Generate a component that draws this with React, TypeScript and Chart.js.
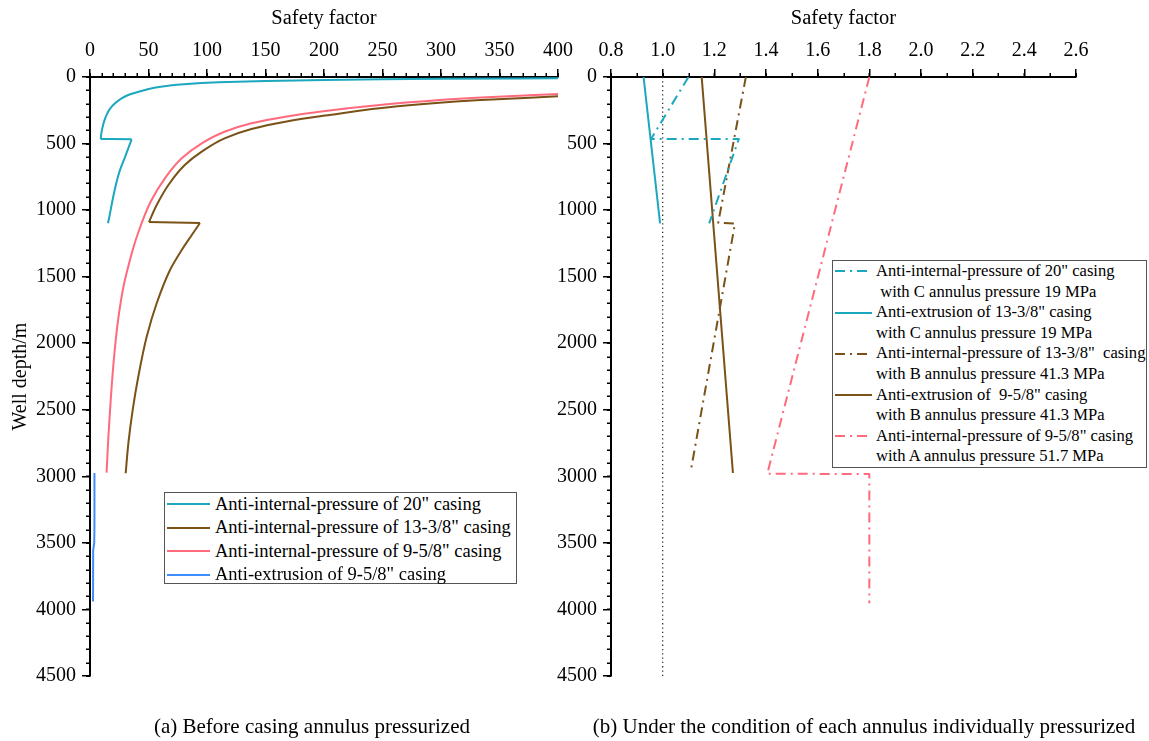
import React, { useEffect, useRef } from 'react';
import { Chart, registerables } from 'chart.js';

Chart.register(...registerables);

const FONT = "'Liberation Serif', 'Times New Roman', Times, serif";
const W = 1149;
const H = 741;

const CYAN = '#1ba8be';
const BROWN = '#7a5217';
const PINK = '#ff6a7d';
const BLUE = '#3d8dff';
const DASH_DOT = [10, 5, 2, 5];

// ---------- Panel (a): before casing annulus pressurized ----------
// safety factor (x) vs well depth in m (y); the "jump" index marks where the curve steps sideways
const aSf20 = [400, 300, 250, 200, 150, 110, 80, 67, 55, 47, 40, 32.7, 27, 21.4, 17, 14.2, 12, 10.5, 9.6, 9.2, 35.6, 29.5, 25.6, 22.8, 20.8, 19.0, 17.2, 15.4];
const aDepth20 = [10, 14, 17, 22, 30, 40, 54, 65, 80, 98, 115, 135, 160, 198, 240, 285, 335, 386, 430, 466, 468, 611, 700, 786, 860, 937, 1020, 1099];
const aJump20 = 20;

const aSf1338 = [400, 330, 265, 201, 167, 138, 115, 95.5, 81, 67, 57, 50.4, 94, 87, 78.4, 68.4, 57, 48.5, 41.3, 36.5, 32.8, 30.5];
const aDepth1338 = [145, 175, 218, 290, 336, 391, 461, 561, 661, 811, 962, 1090, 1097, 1187, 1300, 1450, 1700, 1950, 2250, 2500, 2750, 2977];
const aJump1338 = 12;

const aSf958 = [400, 330, 270, 201, 167, 138, 115, 95.5, 78.4, 64, 51.8, 40.5, 36.5, 32.8, 29.2, 24.4, 20.6, 17.7, 15.7, 14.2];
const aDepth958 = [128, 155, 192, 255, 298, 348, 411, 498, 611, 761, 937, 1187, 1300, 1420, 1550, 1800, 2100, 2427, 2702, 2972];

const aSfExt958 = [3.8, 3.8, 3.6, 2.7, 2.6];
const aDepthExt958 = [2975, 3300, 3500, 3560, 3940];

const aLabels = [
  'Anti-internal-pressure of 20" casing',
  'Anti-internal-pressure of 13-3/8" casing',
  'Anti-internal-pressure of 9-5/8" casing',
  'Anti-extrusion of 9-5/8" casing',
];

// ---------- Panel (b): each annulus individually pressurized ----------
const bSf20 = [1.1, 0.955, 1.295, 1.18];
const bDepth20 = [0, 465, 465, 1100];

const bSfExt1338 = [0.926, 0.99];
const bDepthExt1338 = [0, 1100];

const bSf1338 = [1.322, 1.215, 1.28, 1.11];
const bDepth1338 = [0, 1095, 1100, 2947];

const bSfExt958 = [1.151, 1.272];
const bDepthExt958 = [0, 2975];

const bSf958 = [1.8, 1.405, 1.8, 1.8];
const bDepth958 = [0, 2980, 2983, 3954];

const refSf = [1, 1];
const refDepth = [0, 4500];

const bLabels: [string, string][] = [
  ['Anti-internal-pressure of 20" casing', ' with C annulus pressure 19 MPa'],
  ['Anti-extrusion of 13-3/8" casing', 'with C annulus pressure 19 MPa'],
  ['Anti-internal-pressure of 13-3/8"  casing', 'with B annulus pressure 41.3 MPa'],
  ['Anti-extrusion of  9-5/8" casing', 'with B annulus pressure 41.3 MPa'],
  ['Anti-internal-pressure of 9-5/8" casing', 'with A annulus pressure 51.7 MPa'],
];

// ---------- Ticks ----------
const depthTicks = [0, 500, 1000, 1500, 2000, 2500, 3000, 3500, 4000, 4500];
const xTicksA = [0, 50, 100, 150, 200, 250, 300, 350, 400];
const xTicksB = [0.8, 1.0, 1.2, 1.4, 1.6, 1.8, 2.0, 2.2, 2.4, 2.6];

const captionA = '(a) Before casing annulus pressurized';
const captionB = '(b) Under the condition of each annulus individually pressurized';

function pts(sf: number[], depth: number[]) {
  return sf.map((x, i) => ({ x, y: depth[i] }));
}

// split a series at a step so each smooth branch is interpolated on its own
function pieces(sf: number[], depth: number[], jump?: number) {
  const all = pts(sf, depth);
  if (jump === undefined) return [all];
  return [all.slice(0, jump), all.slice(jump - 1, jump + 1), all.slice(jump)];
}

const minorTicks = {
  id: 'minorTicks',
  afterDraw(chart: any, _args: any, opts: any) {
    const { ctx, chartArea, scales } = chart;
    const xs = scales.x;
    const ys = scales.y;
    ctx.save();
    ctx.strokeStyle = '#000';
    ctx.lineWidth = 1.5;
    ctx.beginPath();
    const nx = Math.round((xs.max - xs.min) / opts.xStep);
    for (let i = 0; i <= nx; i++) {
      const px = Math.round(xs.getPixelForValue(xs.min + i * opts.xStep)) + 0.25;
      ctx.moveTo(px, chartArea.top);
      ctx.lineTo(px, chartArea.top - 4);
    }
    const ny = Math.round((ys.max - ys.min) / opts.yStep);
    for (let i = 0; i <= ny; i++) {
      const py = Math.round(ys.getPixelForValue(ys.min + i * opts.yStep)) + 0.25;
      ctx.moveTo(chartArea.left, py);
      ctx.lineTo(chartArea.left - 4, py);
    }
    ctx.stroke();
    ctx.restore();
  },
};

interface OptCfg {
  xMin: number;
  xMax: number;
  xTicks: number[];
  xMinor: number;
  fmt: (v: number) => string;
  padLeft: number;
  padRight: number;
  yWidth: number;
  yTitle: boolean;
  smooth: boolean;
}

function buildOptions(p: OptCfg): any {
  const tickFont = { family: FONT, size: 20 };
  const grid = { drawOnChartArea: false, drawTicks: true, tickLength: 8, color: '#000', lineWidth: 1.5 };
  const border = { display: true, color: '#000', width: 2 };
  return {
    responsive: false,
    maintainAspectRatio: false,
    animation: false,
    events: [],
    indexAxis: p.smooth ? 'y' : 'x',
    layout: { padding: { left: p.padLeft, right: p.padRight, top: 0, bottom: H - 676 } },
    plugins: {
      legend: { display: false },
      tooltip: { enabled: false },
      minorTicks: { xStep: p.xMinor, yStep: 100 },
    },
    elements: {
      point: { radius: 0, hoverRadius: 0 },
      line: {
        tension: 0,
        borderWidth: 2,
        borderJoinStyle: 'round',
        cubicInterpolationMode: p.smooth ? 'monotone' : 'default',
      },
    },
    scales: {
      x: {
        type: 'linear',
        position: 'top',
        min: p.xMin,
        max: p.xMax,
        afterBuildTicks: (s: any) => {
          s.ticks = p.xTicks.map((v) => ({ value: v }));
        },
        afterFit: (s: any) => {
          s.height = 77;
        },
        ticks: { color: '#000', font: tickFont, padding: 6, maxRotation: 0, autoSkip: false, callback: (v: any) => p.fmt(Number(v)) },
        grid,
        border,
        title: { display: true, text: 'Safety factor', color: '#000', font: { family: FONT, size: 20.5 }, padding: { top: 6, bottom: 0 } },
      },
      y: {
        type: 'linear',
        position: 'left',
        reverse: true,
        min: 0,
        max: 4500,
        afterBuildTicks: (s: any) => {
          s.ticks = depthTicks.map((v) => ({ value: v }));
        },
        afterFit: (s: any) => {
          s.width = p.yWidth;
        },
        ticks: { color: '#000', font: tickFont, padding: 6, autoSkip: false, callback: (v: any) => String(v) },
        grid,
        border,
        title: { display: p.yTitle, text: 'Well depth/m', color: '#000', font: { family: FONT, size: 20 }, padding: { top: 9, bottom: 0 } },
      },
    },
  };
}

function LineSample({ color, dash, width, left, top }: { color: string; dash?: number[]; width: number; left: number; top: number }) {
  return (
    <svg width={width} height={6} style={{ position: 'absolute', left, top: top - 3, overflow: 'visible' }}>
      <line x1={0} y1={3} x2={width} y2={3} stroke={color} strokeWidth={2} strokeDasharray={dash ? dash.join(' ') : undefined} />
    </svg>
  );
}

export default function App() {
  const leftRef = useRef<HTMLCanvasElement | null>(null);
  const rightRef = useRef<HTMLCanvasElement | null>(null);

  useEffect(() => {
    const aSeries = [
      { label: aLabels[0], color: CYAN, parts: pieces(aSf20, aDepth20, aJump20) },
      { label: aLabels[1], color: BROWN, parts: pieces(aSf1338, aDepth1338, aJump1338) },
      { label: aLabels[2], color: PINK, parts: pieces(aSf958, aDepth958) },
      { label: aLabels[3], color: BLUE, parts: pieces(aSfExt958, aDepthExt958) },
    ];
    const aDatasets: any[] = [];
    aSeries.forEach((s) => {
      s.parts.forEach((d) => {
        aDatasets.push({ label: s.label, data: d, borderColor: s.color, fill: false });
      });
    });

    const left = new Chart(leftRef.current as HTMLCanvasElement, {
      type: 'line',
      data: { datasets: aDatasets },
      options: buildOptions({
        xMin: 0,
        xMax: 400,
        xTicks: xTicksA,
        xMinor: 10,
        fmt: (v) => String(v),
        padLeft: 0,
        padRight: W - 558,
        yWidth: 90,
        yTitle: true,
        smooth: true,
      }),
      plugins: [minorTicks as any],
    } as any);

    const right = new Chart(rightRef.current as HTMLCanvasElement, {
      type: 'line',
      data: {
        datasets: [
          { label: bLabels[0].join(''), data: pts(bSf20, bDepth20), borderColor: CYAN, borderDash: DASH_DOT, fill: false },
          { label: bLabels[1].join(''), data: pts(bSfExt1338, bDepthExt1338), borderColor: CYAN, fill: false },
          { label: bLabels[2].join(''), data: pts(bSf1338, bDepth1338), borderColor: BROWN, borderDash: DASH_DOT, fill: false },
          { label: bLabels[3].join(''), data: pts(bSfExt958, bDepthExt958), borderColor: BROWN, fill: false },
          { label: bLabels[4].join(''), data: pts(bSf958, bDepth958), borderColor: PINK, borderDash: DASH_DOT, fill: false },
          { label: 'SF = 1', data: pts(refSf, refDepth), borderColor: '#333', borderWidth: 1.3, borderDash: [1.3, 3], fill: false },
        ],
      },
      options: buildOptions({
        xMin: 0.8,
        xMax: 2.6,
        xTicks: xTicksB,
        xMinor: 0.1,
        fmt: (v) => v.toFixed(1),
        padLeft: 530,
        padRight: W - 1076,
        yWidth: 81,
        yTitle: false,
        smooth: false,
      }),
      plugins: [minorTicks as any],
    } as any);

    return () => {
      left.destroy();
      right.destroy();
    };
  }, []);

  const aColors = [CYAN, BROWN, PINK, BLUE];
  const bStyles: { color: string; dash?: number[] }[] = [
    { color: CYAN, dash: DASH_DOT },
    { color: CYAN },
    { color: BROWN, dash: DASH_DOT },
    { color: BROWN },
    { color: PINK, dash: DASH_DOT },
  ];

  const legRowA = 23.5;
  const legRowB = 20.6;

  return (
    <div style={{ position: 'absolute', left: 0, top: 0, width: W, height: H, background: '#fff', fontFamily: FONT, color: '#000', overflow: 'hidden' }}>
      <canvas ref={leftRef} width={W} height={H} style={{ position: 'absolute', left: 0, top: 0 }} />
      <canvas ref={rightRef} width={W} height={H} style={{ position: 'absolute', left: 0, top: 0 }} />

      {/* Legend (a) */}
      <div style={{ position: 'absolute', left: 164, top: 492, width: 353, height: 92, border: '1px solid #555', boxSizing: 'border-box', background: '#fff' }}>
        {aLabels.map((t, i) => (
          <React.Fragment key={i}>
            <LineSample color={aColors[i]} width={43} left={2} top={i * legRowA + 11} />
            <div style={{ position: 'absolute', left: 50, top: i * legRowA - 0.5, fontSize: 18.5, lineHeight: `${legRowA}px`, whiteSpace: 'pre' }}>{t}</div>
          </React.Fragment>
        ))}
      </div>

      {/* Legend (b) */}
      <div style={{ position: 'absolute', left: 832, top: 260, width: 315, height: 208, border: '1px solid #555', boxSizing: 'border-box', background: '#fff' }}>
        {bLabels.map((t, i) => (
          <React.Fragment key={i}>
            <LineSample color={bStyles[i].color} dash={bStyles[i].dash} width={37} left={1.5} top={i * 2 * legRowB + legRowB / 2} />
            <div style={{ position: 'absolute', left: 43, top: i * 2 * legRowB, fontSize: 16.6, lineHeight: `${legRowB}px`, whiteSpace: 'pre' }}>
              {t[0]}
              {'\n'}
              {t[1]}
            </div>
          </React.Fragment>
        ))}
      </div>

      {/* Captions */}
      <div style={{ position: 'absolute', left: 112, top: 716, width: 400, textAlign: 'center', fontSize: 21, lineHeight: '21px', whiteSpace: 'pre' }}>{captionA}</div>
      <div style={{ position: 'absolute', left: 564, top: 716, width: 600, textAlign: 'center', fontSize: 21, lineHeight: '21px', whiteSpace: 'pre' }}>{captionB}</div>
    </div>
  );
}
